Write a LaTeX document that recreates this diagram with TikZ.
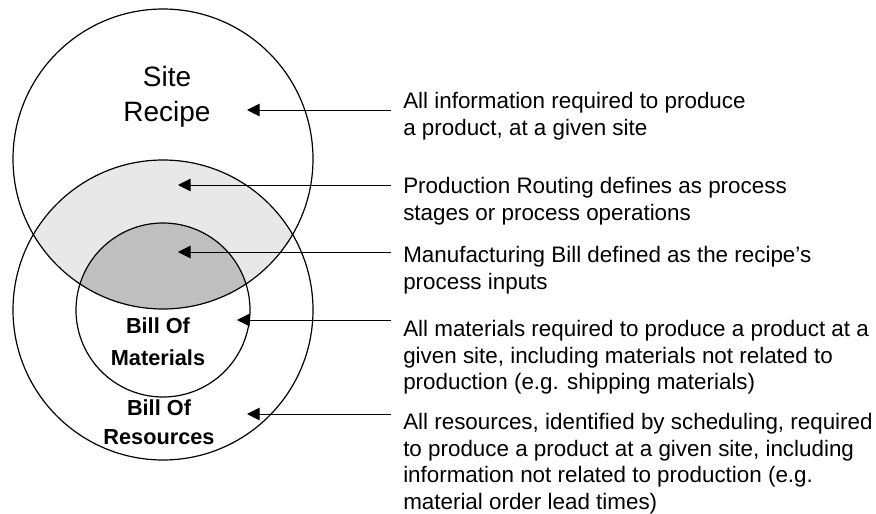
\documentclass[tikz,border=0pt]{standalone}
\usepackage{fontspec}
\setmainfont{Liberation Sans}
\usetikzlibrary{arrows.meta, positioning}

\begin{document}
\begin{tikzpicture}[
		x=0.75pt, y=-0.75pt,
		% Outline of the three sets
		setline/.style={draw=black, line width=0.9pt},
		% Shading of the two overlaps
		routingfill/.style={fill=black!9},
		billfill/.style={fill=black!25},
		% Names written inside the circles
		bigname/.style={font=\fontsize{21}{26}\selectfont, align=center, anchor=north, inner sep=0pt},
		boldname/.style={font=\fontsize{16.3}{22}\selectfont\bfseries, align=center, anchor=north, inner sep=0pt},
		% Explanations on the right
		note/.style={font=\fontsize{16.8}{19.9}\selectfont, align=left, anchor=north west, inner xsep=9pt, inner ysep=0pt},
		pointer/.style={-{Triangle[length=9.5pt, width=9.5pt]}, line width=0.75pt}
		]
		\useasboundingbox (0,0) rectangle (876,514);
		
		% --- CIRCLE CENTRES ---
		\coordinate (recipe) at (163,159);
		\coordinate (resources) at (163,310);
		
		% --- SHADED OVERLAPS ---
		\begin{scope}
			\clip (recipe) circle[radius=112.5pt];
			\fill[routingfill] (resources) circle[radius=112.5pt];
			\fill[billfill] (resources) circle[radius=65.25pt];
		\end{scope}
		
		% --- OUTLINES ---
		\draw[setline] (recipe) circle[radius=112.5pt];
		\draw[setline] (resources) circle[radius=112.5pt];
		\draw[setline] (resources) circle[radius=65.25pt];
		
		% --- SET NAMES ---
		\node[bigname] (sitename) at (167,66) {Site\\Recipe};
		\node[boldname, font=\fontsize{16.3}{24}\selectfont\bfseries] (materialsname) at (158,317) {Bill Of\\Materials};
		\node[boldname] (resourcesname) at (159,399) {Bill Of\\Resources};
		
		% --- ARROW TIPS ---
		\coordinate (sitetip) at (247,110);
		\coordinate (routingtip) at (178,185);
		\coordinate (billtip) at (178,252);
		\coordinate (materialstip) at (237,320);
		\coordinate (resourcestip) at (247,414);
		
		% --- EXPLANATIONS ---
		\node[note] (siteinfo) at (391,92) {All information required to produce\\a product, at a given site};
		\node[note] (routinginfo) at (391,177) {Production Routing defines as process\\stages or process operations};
		\node[note] (billinfo) at (391,246) {Manufacturing Bill defined as the recipe’s\\process inputs};
		\node[note] (materialsinfo) at (391,320) {All materials required to produce a product at a\\given site, including materials not related to\\production (e.g. shipping materials)};
		\node[note] (resourcesinfo) at (391,413) {All resources, identified by scheduling, required\\to produce a product at a given site, including\\information not related to production (e.g.\\material order lead times)};
		
		% --- POINTERS ---
		\draw[pointer] (siteinfo.west |- sitetip) -- (sitetip);
		\draw[pointer] (routinginfo.west |- routingtip) -- (routingtip);
		\draw[pointer] (billinfo.west |- billtip) -- (billtip);
		\draw[pointer] (materialsinfo.west |- materialstip) -- (materialstip);
		\draw[pointer] (resourcesinfo.west |- resourcestip) -- (resourcestip);
		
	\end{tikzpicture}
\end{document}
